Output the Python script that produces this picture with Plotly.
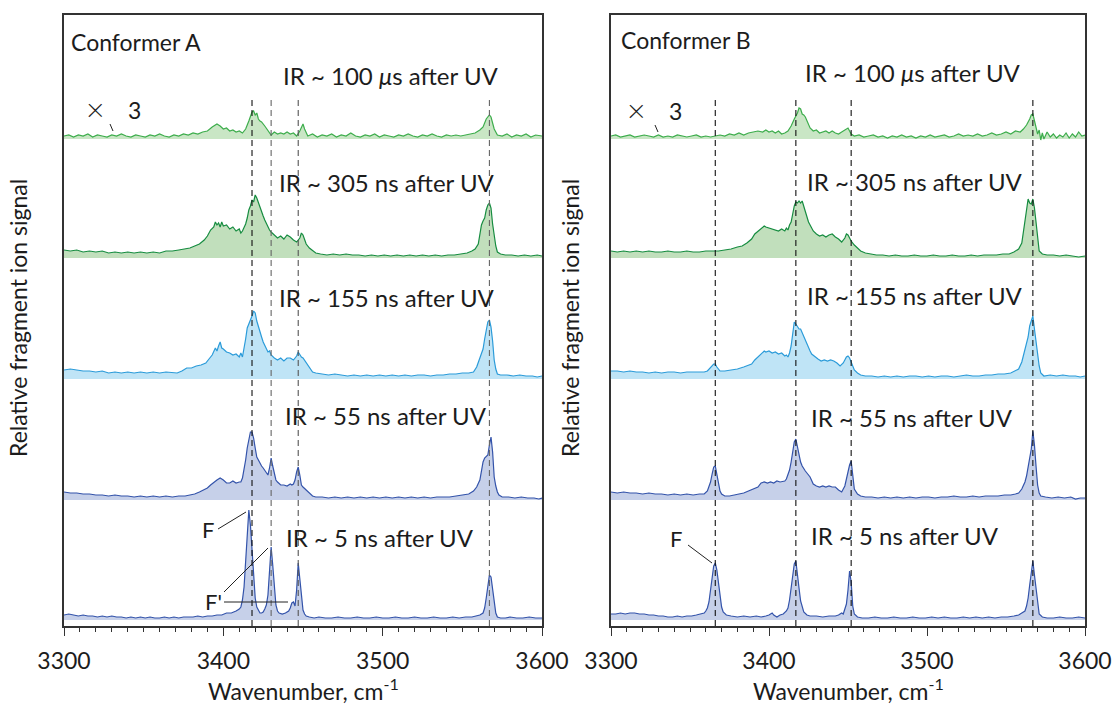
import plotly.graph_objects as go

# ---------------- data: IR spectra (wavenumber cm-1, relative signal) ----------------
# Conformer A
A_100US = [(3300,3),(3303,4),(3306,2),(3309,4),(3312,3),(3315,5),(3318,2),(3321,4),(3324,3),(3327,2),(3330,4),(3333,3),
           (3336,5),(3339,3),(3342,2),(3345,4),(3348,3),(3351,2),(3354,4),(3357,3),(3360,5),(3363,3),(3366,2),(3369,4),
           (3372,3),(3375,5),(3378,4),(3381,6),(3384,5),(3387,7),(3390,8),(3393,12),(3396,15),(3398,13),(3400,10),(3402,11),
           (3404,8),(3406,9),(3408,7),(3410,8),(3412,6),(3414,10),(3416,18),(3418,27),(3419,28),(3420,24),(3421,26),(3422,20),
           (3423,18),(3424,17),(3426,13),(3428,8),(3430,4),(3432,7),(3434,5),(3436,6),(3438,5),(3440,7),(3442,5),(3444,6),
           (3446,3),(3448,8),(3450,15),(3451,10),(3453,3),(3456,5),(3459,2),(3462,4),(3465,3),(3468,5),(3471,2),(3474,4),
           (3477,3),(3480,6),(3483,3),(3486,2),(3489,4),(3492,3),(3495,5),(3498,2),(3501,4),(3504,3),(3507,2),(3510,4),
           (3513,3),(3516,5),(3519,3),(3522,2),(3525,4),(3528,3),(3531,5),(3534,3),(3537,2),(3540,4),(3543,3),(3546,4),
           (3549,3),(3552,4),(3555,5),(3558,6),(3561,9),(3563,12),(3565,20),(3567,24),(3568,22),(3570,10),(3572,4),(3575,3),
           (3578,5),(3581,2),(3584,4),(3587,3),(3590,5),(3593,2),(3596,4),(3600,3)]
A_305NS = [(3300,8),(3304,7),(3308,8),(3312,6),(3316,7),(3320,6),(3324,7),(3328,5),(3332,6),(3336,5),(3340,6),(3344,5),
           (3348,6),(3352,5),(3356,6),(3360,5),(3364,7),(3368,7),(3372,8),(3376,9),(3379,10),(3382,12),(3385,14),(3388,18),
           (3390,22),(3392,28),(3394,31),(3395,36),(3396,33),(3397,35),(3398,31),(3399,36),(3400,32),(3402,33),(3404,29),
           (3406,31),(3408,27),(3410,29),(3411,25),(3412,27),(3413,30),(3414,34),(3415,40),(3416,48),(3417,52),(3418,58),
           (3419,56),(3420,63),(3421,60),(3422,55),(3423,52),(3424,46),(3425,42),(3426,38),(3427,34),(3428,30),(3429,28),
           (3430,26),(3432,23),(3434,20),(3436,22),(3438,19),(3440,23),(3442,21),(3444,18),(3446,16),(3448,20),(3449,25),
           (3450,23),(3451,19),(3452,14),(3454,10),(3456,7),(3458,5),(3461,4),(3465,3),(3469,4),(3473,3),(3477,4),(3481,3),
           (3485,3),(3489,2),(3493,3),(3497,2),(3501,3),(3505,2),(3509,3),(3513,2),(3517,3),(3521,2),(3525,3),(3529,2),
           (3533,3),(3537,2),(3541,3),(3545,3),(3549,4),(3553,5),(3556,7),(3558,9),(3560,14),(3561,22),(3562,33),(3563,37),
           (3564,40),(3565,48),(3566,53),(3567,55),(3568,50),(3569,34),(3570,22),(3571,12),(3572,6),(3574,4),(3577,3),
           (3581,3),(3585,2),(3589,3),(3593,2),(3597,3),(3600,2)]
A_155NS = [(3300,9),(3304,10),(3308,9),(3312,8),(3316,8),(3320,7),(3324,8),(3328,6),(3332,7),(3336,6),(3340,7),(3344,6),
           (3348,7),(3352,6),(3356,7),(3360,6),(3364,7),(3368,6),(3371,6),(3374,8),(3377,11),(3380,11),(3383,13),(3386,14),
           (3389,16),(3391,20),(3393,24),(3395,31),(3396,28),(3397,33),(3398,37),(3399,31),(3400,30),(3402,27),(3404,26),
           (3406,24),(3408,25),(3410,22),(3411,26),(3412,22),(3413,30),(3414,40),(3415,51),(3416,55),(3417,58),(3418,63),
           (3419,68),(3420,66),(3421,58),(3422,52),(3423,46),(3424,42),(3425,37),(3426,33),(3427,30),(3428,27),(3429,28),
           (3430,24),(3432,21),(3434,19),(3436,21),(3438,18),(3440,21),(3442,21),(3444,19),(3446,23),(3447,27),(3448,24),
           (3449,22),(3450,21),(3452,16),(3454,11),(3456,7),(3458,6),(3462,5),(3466,4),(3470,5),(3474,4),(3478,3),(3482,4),
           (3486,3),(3490,4),(3494,3),(3498,4),(3502,3),(3506,4),(3510,3),(3514,4),(3518,3),(3522,4),(3526,4),(3530,3),
           (3534,4),(3538,4),(3542,5),(3546,5),(3550,6),(3554,6),(3557,7),(3559,12),(3561,22),(3562,26),(3563,30),(3564,40),
           (3565,51),(3566,57),(3567,59),(3568,52),(3569,38),(3570,19),(3571,10),(3572,5),(3574,4),(3578,4),(3582,3),
           (3586,4),(3590,3),(3594,3),(3597,2),(3600,3)]
A_55NS = [(3300,8),(3304,7),(3308,7),(3312,6),(3316,6),(3320,5),(3324,5),(3328,4),(3332,5),(3336,4),(3340,4),(3344,3),
          (3348,4),(3352,3),(3356,4),(3360,3),(3364,4),(3368,3),(3372,4),(3376,4),(3379,5),(3382,6),(3385,8),(3388,10),
          (3390,12),(3392,15),(3394,18),(3396,20),(3398,22),(3400,20),(3402,17),(3404,17),(3406,19),(3408,17),(3410,18),
          (3411,18),(3412,22),(3413,30),(3414,40),(3415,52),(3416,62),(3417,68),(3418,68),(3419,62),(3420,52),(3421,43),
          (3422,40),(3423,36),(3424,34),(3425,32),(3426,30),(3427,28),(3428,25),(3429,32),(3430,42),(3431,34),(3432,25),
          (3433,20),(3434,18),(3436,15),(3438,15),(3440,14),(3442,16),(3443,15),(3444,16),(3445,20),(3446,28),(3447,33),
          (3448,25),(3449,15),(3450,13),(3452,10),(3454,7),(3456,4),(3458,3),(3462,3),(3466,2),(3470,3),(3474,2),(3478,3),
          (3482,2),(3486,3),(3490,2),(3494,3),(3498,2),(3502,3),(3506,2),(3510,3),(3514,2),(3518,3),(3522,2),(3526,3),
          (3530,2),(3534,3),(3538,3),(3542,3),(3546,4),(3550,5),(3554,6),(3557,9),(3559,13),(3561,20),(3562,30),(3563,38),
          (3564,42),(3565,44),(3566,45),(3567,55),(3568,63),(3569,48),(3570,23),(3571,14),(3572,8),(3573,5),(3575,3),
          (3579,3),(3583,2),(3587,3),(3591,2),(3595,2),(3598,1),(3600,2)]
A_5NS = [(3300,5),(3303,6),(3306,5),(3309,4),(3312,5),(3315,4),(3318,4),(3321,3),(3324,4),(3327,3),(3330,4),(3333,3),
         (3336,3),(3339,2),(3342,3),(3345,2),(3348,3),(3351,2),(3354,3),(3357,2),(3360,2),(3363,3),(3366,2),(3369,3),
         (3372,2),(3375,3),(3378,3),(3381,3),(3384,4),(3387,3),(3390,4),(3393,4),(3396,5),(3399,5),(3402,7),(3405,7),
         (3408,9),(3410,11),(3411,13),(3412,20),(3413,33),(3414,60),(3415,95),(3416,110),(3417,95),(3418,70),(3419,40),
         (3420,22),(3421,13),(3422,9),(3423,7),(3424,7),(3425,8),(3426,11),(3427,15),(3428,25),(3429,50),(3430,73),
         (3431,55),(3432,30),(3433,15),(3434,9),(3435,7),(3437,6),(3439,7),(3441,9),(3442,12),(3443,17),(3444,18),
         (3445,14),(3446,30),(3447,57),(3448,40),(3449,20),(3450,10),(3451,6),(3452,4),(3454,3),(3457,2),(3460,3),
         (3464,2),(3468,2),(3472,3),(3476,2),(3480,2),(3484,3),(3488,2),(3492,2),(3496,3),(3500,2),(3504,2),(3508,3),
         (3512,2),(3516,2),(3520,3),(3524,2),(3528,2),(3532,3),(3536,2),(3540,2),(3544,3),(3548,2),(3552,3),(3556,3),
         (3559,4),(3561,5),(3563,7),(3564,12),(3565,22),(3566,33),(3567,45),(3568,43),(3569,30),(3570,15),(3571,7),
         (3572,3),(3574,2),(3577,2),(3580,3),(3584,2),(3588,2),(3592,3),(3596,2),(3600,2)]

# Conformer B
B_100US = [(3300,3),(3303,4),(3306,2),(3309,3),(3312,4),(3315,2),(3318,3),(3321,4),(3324,3),(3327,2),(3330,4),(3333,2),
           (3336,3),(3339,2),(3342,4),(3345,3),(3348,2),(3351,3),(3354,4),(3357,2),(3360,3),(3363,2),(3366,3),(3369,4),
           (3372,3),(3375,5),(3378,4),(3381,6),(3384,4),(3387,6),(3390,7),(3393,8),(3396,7),(3398,9),(3400,7),(3402,8),
           (3404,6),(3406,8),(3408,5),(3410,6),(3412,8),(3414,13),(3416,20),(3418,26),(3419,31),(3420,30),(3421,25),
           (3422,24),(3423,22),(3424,18),(3426,11),(3428,8),(3430,9),(3432,6),(3434,7),(3436,8),(3438,6),(3440,8),(3442,6),
           (3444,5),(3446,7),(3448,9),(3450,11),(3452,5),(3454,3),(3457,4),(3460,2),(3463,3),(3466,4),(3469,2),(3472,3),
           (3475,1),(3478,3),(3481,2),(3484,4),(3487,2),(3490,3),(3493,1),(3496,3),(3499,2),(3502,4),(3505,2),(3508,3),
           (3511,4),(3514,2),(3517,3),(3520,5),(3523,3),(3526,4),(3529,3),(3532,5),(3535,3),(3538,4),(3541,6),(3544,4),
           (3547,5),(3550,7),(3553,5),(3556,8),(3559,7),(3561,10),(3563,14),(3565,20),(3566,24),(3567,25),(3568,18),
           (3569,9),(3570,5),(3571,9),(3572,-1),(3573,6),(3574,0),(3576,7),(3578,2),(3580,5),(3582,1),(3584,4),(3586,2),
           (3588,6),(3590,1),(3592,5),(3594,2),(3596,7),(3598,3),(3600,4)]
B_305NS = [(3300,7),(3304,6),(3308,7),(3312,6),(3316,7),(3320,6),(3324,7),(3328,6),(3332,6),(3336,7),(3340,6),(3344,6),
           (3348,7),(3352,6),(3356,6),(3360,7),(3364,7),(3368,7),(3372,8),(3376,9),(3380,11),(3383,12),(3386,15),(3389,19),
           (3391,24),(3393,27),(3395,30),(3397,32),(3398,31),(3400,30),(3402,29),(3404,28),(3406,27),(3408,29),(3410,27),
           (3411,30),(3412,28),(3413,33),(3414,36),(3415,44),(3416,52),(3417,56),(3418,55),(3419,57),(3420,55),(3421,57),
           (3422,52),(3423,46),(3424,40),(3425,36),(3426,33),(3427,29),(3428,27),(3430,24),(3432,22),(3434,23),(3436,21),
           (3438,23),(3440,24),(3442,21),(3444,19),(3446,16),(3448,20),(3449,24),(3450,23),(3451,20),(3452,17),(3454,13),
           (3456,10),(3458,7),(3461,5),(3464,4),(3468,3),(3472,3),(3476,2),(3480,3),(3484,2),(3488,2),(3492,3),(3496,2),
           (3500,2),(3504,3),(3508,2),(3512,2),(3516,3),(3520,2),(3524,2),(3528,3),(3532,2),(3536,3),(3540,3),(3544,3),
           (3548,4),(3552,4),(3555,6),(3558,9),(3560,15),(3561,25),(3562,35),(3563,48),(3564,59),(3565,55),(3566,54),
           (3567,59),(3568,50),(3569,36),(3570,18),(3571,7),(3573,4),(3576,3),(3580,3),(3584,2),(3588,3),(3592,2),
           (3596,1),(3600,2)]
B_155NS = [(3300,8),(3304,8),(3308,7),(3312,8),(3316,7),(3320,7),(3324,6),(3328,7),(3332,6),(3336,7),(3340,7),(3344,6),
           (3348,7),(3352,7),(3356,7),(3359,7),(3361,8),(3363,11),(3365,15),(3366,15),(3367,12),(3369,8),(3372,8),(3376,9),
           (3380,10),(3384,12),(3387,14),(3389,15),(3391,19),(3393,22),(3395,25),(3397,28),(3398,27),(3400,28),(3402,26),
           (3404,27),(3406,25),(3408,26),(3410,23),(3411,24),(3412,22),(3413,26),(3414,33),(3415,45),(3416,57),(3417,55),
           (3418,53),(3419,50),(3420,50),(3421,46),(3422,42),(3423,40),(3424,36),(3425,32),(3426,28),(3427,25),(3429,22),
           (3431,20),(3433,18),(3435,19),(3437,18),(3439,19),(3441,18),(3443,16),(3445,13),(3447,16),(3449,22),(3450,23),
           (3451,21),(3452,17),(3454,9),(3456,6),(3458,4),(3461,3),(3465,3),(3469,2),(3473,3),(3477,2),(3481,3),(3485,2),
           (3489,3),(3493,3),(3497,2),(3501,3),(3505,2),(3509,3),(3513,3),(3517,2),(3521,3),(3525,4),(3529,3),(3533,3),
           (3537,4),(3541,4),(3545,5),(3549,5),(3553,6),(3556,8),(3558,10),(3560,17),(3562,30),(3563,35),(3564,42),
           (3565,53),(3566,58),(3567,63),(3568,50),(3569,36),(3570,22),(3571,13),(3572,6),(3574,3),(3578,4),(3582,3),
           (3586,4),(3590,3),(3594,3),(3597,2),(3600,3)]
B_55NS = [(3300,8),(3304,7),(3308,8),(3312,7),(3316,7),(3320,6),(3324,7),(3328,6),(3332,6),(3336,5),(3340,6),(3344,5),
          (3348,6),(3352,5),(3356,6),(3359,6),(3361,9),(3363,18),(3364,26),(3365,33),(3366,34),(3367,25),(3368,14),
          (3369,9),(3370,6),(3372,4),(3375,4),(3378,5),(3381,6),(3384,7),(3387,9),(3390,11),(3393,13),(3395,17),(3397,18),
          (3399,17),(3401,18),(3403,17),(3405,19),(3407,18),(3409,19),(3410,19),(3411,21),(3412,25),(3413,30),(3414,38),
          (3415,48),(3416,58),(3417,61),(3418,52),(3419,43),(3420,38),(3421,34),(3422,31),(3423,29),(3424,27),(3426,23),
          (3428,16),(3430,14),(3432,13),(3434,14),(3436,13),(3438,14),(3440,13),(3442,13),(3444,10),(3446,8),(3448,14),
          (3449,20),(3450,28),(3451,35),(3452,39),(3453,25),(3454,11),(3456,6),(3458,4),(3461,3),(3465,3),(3469,2),
          (3473,3),(3477,2),(3481,3),(3485,2),(3489,3),(3493,2),(3497,3),(3501,3),(3505,2),(3509,3),(3513,3),(3517,4),
          (3521,3),(3525,3),(3529,4),(3533,3),(3537,4),(3541,4),(3545,4),(3549,5),(3553,5),(3556,6),(3558,7),(3560,11),
          (3562,18),(3563,24),(3564,32),(3565,42),(3566,51),(3567,69),(3568,55),(3569,34),(3570,15),(3571,7),(3572,4),
          (3575,3),(3579,2),(3583,3),(3587,2),(3591,3),(3594,1),(3597,2),(3600,2)]
B_5NS = [(3300,6),(3303,6),(3306,7),(3309,6),(3312,7),(3315,7),(3318,6),(3321,6),(3324,5),(3327,5),(3330,4),(3333,4),
         (3336,3),(3339,3),(3342,4),(3345,3),(3348,4),(3351,4),(3354,5),(3357,6),(3359,7),(3360,9),(3361,12),(3362,18),
         (3363,28),(3364,42),(3365,54),(3366,57),(3367,50),(3368,38),(3369,22),(3370,13),(3371,8),(3373,5),(3376,4),
         (3380,3),(3384,4),(3388,3),(3392,4),(3395,3),(3398,4),(3400,5),(3402,7),(3403,5),(3405,3),(3407,5),(3409,6),
         (3411,9),(3412,12),(3413,20),(3414,32),(3415,45),(3416,56),(3417,59),(3418,48),(3419,32),(3420,19),(3421,12),
         (3422,8),(3424,5),(3426,4),(3430,4),(3434,3),(3438,4),(3442,4),(3444,5),(3446,7),(3447,6),(3448,10),(3449,16),
         (3450,30),(3451,49),(3452,38),(3453,14),(3454,6),(3456,3),(3459,2),(3463,2),(3467,3),(3471,2),(3475,2),(3479,3),
         (3483,2),(3487,2),(3491,3),(3495,2),(3499,2),(3503,3),(3507,2),(3511,3),(3515,2),(3519,2),(3523,3),(3527,2),
         (3531,3),(3535,2),(3539,3),(3543,2),(3547,3),(3551,3),(3555,4),(3558,5),(3560,7),(3562,9),(3563,14),(3564,22),
         (3565,35),(3566,48),(3567,59),(3568,45),(3569,30),(3570,15),(3571,6),(3573,3),(3576,2),(3580,2),(3584,3),
         (3588,2),(3592,2),(3596,3),(3600,2)]

# vertical offsets of the stacked spectra (same units as the signal)
OFFSETS = {"5ns": 6, "55ns": 126, "155ns": 247, "305ns": 368, "100us": 487}
DELAY_LABELS = {"100us": "IR ~ 100 <i>μ</i>s after UV", "305ns": "IR ~ 305 ns after UV",
                "155ns": "IR ~ 155 ns after UV", "55ns": "IR ~ 55 ns after UV", "5ns": "IR ~ 5 ns after UV"}
# band positions marked by dashed guides
BANDS_A = [3418, 3430, 3447, 3567]
BANDS_B = [3366, 3417, 3452, 3567]
X_TICKS = [3300, 3400, 3500, 3600]

# ---------------- styling ----------------
STYLE = {
    "100us": ("#3dad4c", "#c9e6c5"),
    "305ns": ("#168c40", "#c1dfbc"),
    "155ns": ("#2b9bd9", "#bfe4f6"),
    "55ns": ("#3353aa", "#c6d0e9"),
    "5ns": ("#3353aa", "#c6d0e9"),
}
FONT = "Lato, 'Open Sans', sans-serif"
TXT = "#1c1c1c"
W, H = 1115, 706
ML, MR = 30, 25
PLOT_TOP, PLOT_BOTTOM = 15, 626
YMAX = PLOT_BOTTOM - PLOT_TOP
PW = W - ML - MR

panels = {
    "A": {"data": {"100us": A_100US, "305ns": A_305NS, "155ns": A_155NS, "55ns": A_55NS, "5ns": A_5NS},
          "xa": "x", "ya": "y", "px0": 64, "px1": 542},
    "B": {"data": {"100us": B_100US, "305ns": B_305NS, "155ns": B_155NS, "55ns": B_55NS, "5ns": B_5NS},
          "xa": "x2", "ya": "y2", "px0": 611, "px1": 1085},
}

fig = go.Figure()
for name, p in panels.items():
    for key in ["5ns", "55ns", "155ns", "305ns", "100us"]:
        pts = p["data"][key]
        xs = [a for a, _ in pts]
        ys = [b + OFFSETS[key] for _, b in pts]
        line_c, fill_c = STYLE[key]
        # flat reference level the area is filled to
        fig.add_trace(go.Scatter(x=[3300, 3600], y=[OFFSETS[key]] * 2, mode="lines",
                                 line=dict(width=0, color=fill_c), xaxis=p["xa"], yaxis=p["ya"],
                                 showlegend=False, hoverinfo="skip"))
        fig.add_trace(go.Scatter(x=xs, y=ys, mode="lines", fill="tonexty", fillcolor=fill_c,
                                 line=dict(color=line_c, width=1.2), xaxis=p["xa"], yaxis=p["ya"],
                                 showlegend=False, name=f"{name} {key}"))


def px_to_x(panel, px):
    p = panels[panel]
    return 3300 + (px - p["px0"]) * 300 / (p["px1"] - p["px0"])


def py_to_y(py):
    return PLOT_BOTTOM - py


def paper_x(px):
    return (px - ML) / PW


def paper_y(py):
    return (PLOT_BOTTOM - py) / YMAX


shapes = []
# dashed guide lines through the band positions
for panel, bands, cols in [("A", BANDS_A, ["#111", "#666", "#555", "#666"]),
                           ("B", BANDS_B, ["#111", "#111", "#111", "#111"])]:
    p = panels[panel]
    for b, c in zip(bands, cols):
        shapes.append(dict(type="line", xref=p["xa"], yref=p["ya"], x0=b, x1=b, y0=0, y1=py_to_y(100),
                           line=dict(color=c, width=1.1, dash="6px,4px"), layer="above"))


# leader lines
def seg(panel, a, b):
    p = panels[panel]
    return dict(type="line", xref=p["xa"], yref=p["ya"], x0=px_to_x(panel, a[0]), y0=py_to_y(a[1]),
                x1=px_to_x(panel, b[0]), y1=py_to_y(b[1]), line=dict(color="#222", width=1))


shapes += [
    seg("A", (110, 124), (113, 131)),
    seg("B", (655, 125), (658, 132)),
    seg("A", (218, 529), (246, 512)),
    seg("A", (224, 592), (268, 548)),
    seg("A", (224, 602), (288, 602)),
    seg("B", (688, 545), (712, 563)),
]

annotations = []


def label(panel, text, px, py, size=18, xanchor="center", weight="normal"):
    p = panels[panel]
    annotations.append(dict(text=text, x=px_to_x(panel, px), y=py_to_y(py), xref=p["xa"], yref=p["ya"],
                            showarrow=False, xanchor=xanchor, yanchor="middle",
                            font=dict(family=FONT, size=size, color=TXT, weight=weight)))


label("A", "Conformer A", 69, 42, 23, "left")
label("B", "Conformer B", 619, 40, 23, "left")
for panel, pos in [("A", {"100us": (391, 75), "305ns": (387, 182), "155ns": (387, 297),
                          "55ns": (386, 415), "5ns": (380, 537)}),
                   ("B", {"100us": (913, 72), "305ns": (915, 181), "155ns": (915, 295),
                          "55ns": (912, 417), "5ns": (905, 535)})]:
    for key, (px, py) in pos.items():
        label(panel, DELAY_LABELS[key], px, py, 24)

label("A", "×", 95, 108, 32, weight=300)
label("A", "3", 134, 110, 23)
label("B", "×", 636, 109, 32, weight=300)
label("B", "3", 675, 111, 23)
label("A", "F", 208, 529, 22)
label("A", "F'", 213, 601, 22)
label("B", "F", 676, 538, 22)

# axis titles
for cx in [(64 + 542) / 2, (611 + 1085) / 2]:
    annotations.append(dict(text="Wavenumber, cm<sup>-1</sup>", x=paper_x(cx), y=paper_y(689),
                            xref="paper", yref="paper", showarrow=False, xanchor="center", yanchor="middle",
                            font=dict(family=FONT, size=23, color=TXT)))
for cx in [18, 570]:
    annotations.append(dict(text="Relative fragment ion signal", x=paper_x(cx), y=paper_y(318),
                            xref="paper", yref="paper", showarrow=False, textangle=-90,
                            xanchor="center", yanchor="middle",
                            font=dict(family=FONT, size=23, color=TXT)))

xaxis_common = dict(range=[3300, 3600], showline=True, linecolor="#333", linewidth=1.5, mirror=True,
                    showgrid=False, zeroline=False, ticks="outside", tickvals=X_TICKS, ticklen=8,
                    tickwidth=1.2, tickcolor="#333", automargin=False, ticklabelstandoff=6,
                    minor=dict(ticks="outside", dtick=10, ticklen=4, tickwidth=1, tickcolor="#333"),
                    tickfont=dict(family=FONT, size=23, color=TXT))
yaxis_common = dict(range=[0, YMAX], showline=True, linecolor="#333", linewidth=1.5, mirror=True,
                    showgrid=False, zeroline=False, showticklabels=False, ticks="", automargin=False)

fig.update_layout(
    width=W, height=H,
    margin=dict(l=ML, r=MR, t=PLOT_TOP, b=H - PLOT_BOTTOM, autoexpand=False),
    paper_bgcolor="white", plot_bgcolor="white", showlegend=False,
    xaxis=dict(domain=[paper_x(64), paper_x(542)], anchor="y", **xaxis_common),
    yaxis=dict(domain=[0, 1], anchor="x", **yaxis_common),
    xaxis2=dict(domain=[paper_x(611), paper_x(1085)], anchor="y2", **xaxis_common),
    yaxis2=dict(domain=[0, 1], anchor="x2", **yaxis_common),
    shapes=shapes, annotations=annotations,
)

fig.write_html("out.html")
